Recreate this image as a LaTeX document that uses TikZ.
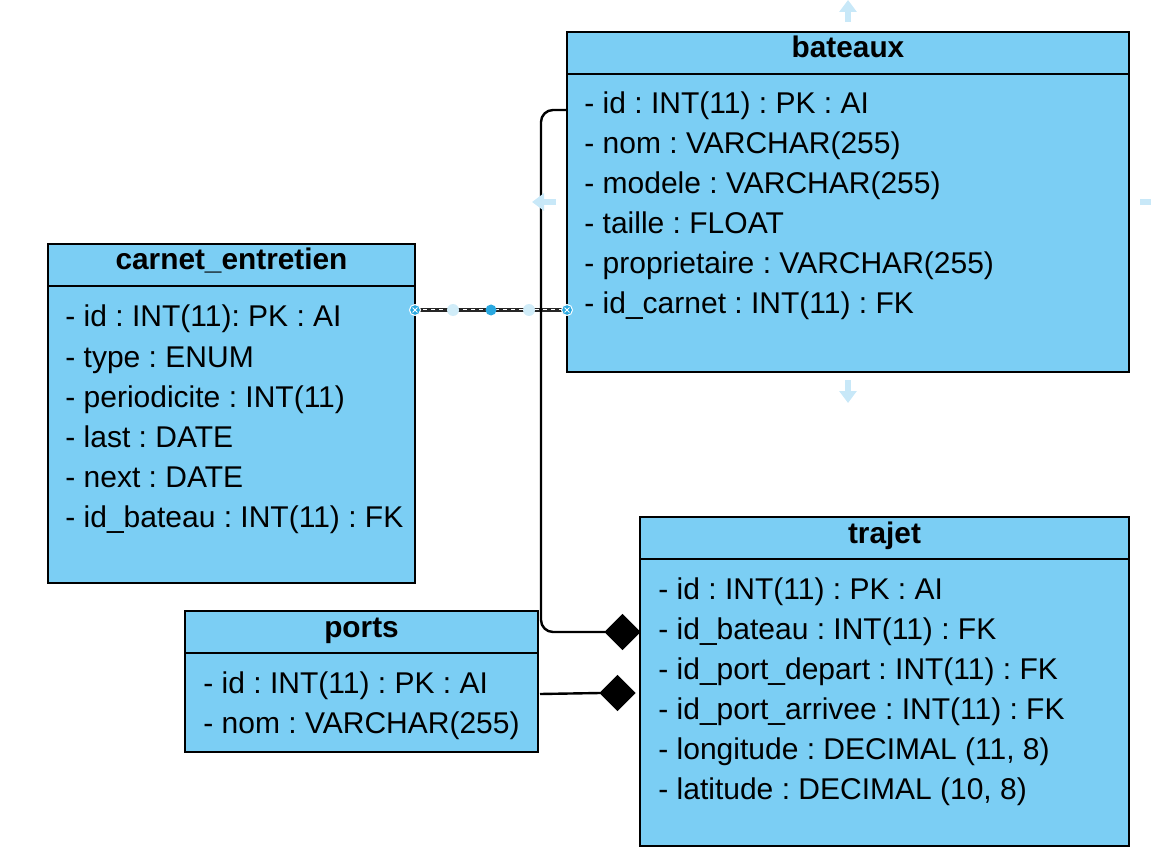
\documentclass[tikz,border=0pt]{standalone}
\usepackage{fontspec}
\setmainfont{Liberation Sans}
\usepackage{xcolor}
\usetikzlibrary{arrows.meta,calc,positioning,shapes.geometric}
\definecolor{erblue}{HTML}{7BCEF4}
\definecolor{selblue}{HTML}{29A8E0}
\definecolor{hintblue}{HTML}{C8E8F8}
\frenchspacing

\begin{document}
\begin{tikzpicture}[x=0.5pt,y=-0.5pt,
  head/.style={draw,line width=1.2pt,fill=erblue,outer sep=0pt,inner sep=0pt,
    minimum height=21pt,text height=10pt,text depth=5pt,anchor=north west,
    font=\bfseries\fontsize{14.9}{18}\selectfont},
  body/.style={draw,line width=1.2pt,fill=erblue,outer sep=0pt,inner sep=0pt},
  fld/.style={anchor=base west,inner sep=0pt,font=\fontsize{15}{18}\selectfont},
  rel/.style={line width=1.2pt,rounded corners=6pt},
  dia/.style={draw,fill=black,diamond,aspect=1,inner sep=0pt,outer sep=0pt,
    minimum width=17.5pt,minimum height=17.5pt,anchor=east},
  sel/.style={line width=1.6pt,draw=black!85},
  hnd/.style={circle,fill=selblue,draw=white,line width=.5pt,inner sep=0pt,
    minimum size=5.5pt,path picture={
      \draw[white,line width=.5pt]
        ($(path picture bounding box.center)+(-1.2pt,-1.2pt)$)--++(2.4pt,2.4pt)
        ($(path picture bounding box.center)+(-1.2pt,1.2pt)$)--++(2.4pt,-2.4pt);}},
  hint/.style={draw=hintblue,line width=3pt,-{Triangle[length=6pt,width=8.5pt]}}]
\useasboundingbox (0,0) rectangle (1151,861);
% tables
\node[head,minimum width=281pt] (bateaux) at (567,32) {bateaux};
\node[body,minimum width=281pt,minimum height=149pt,below=0pt of bateaux] (bateaux-f) {};
\node[fld] (bt1) at ($(bateaux-f.north west)+(17,40)$) {- id : INT(11) : PK : AI};
\node[fld] (bt2) at ([yshift=-20pt]bt1.base west) {- nom : VARCHAR(255)};
\node[fld] (bt3) at ([yshift=-20pt]bt2.base west) {- modele : VARCHAR(255)};
\node[fld] (bt4) at ([yshift=-20pt]bt3.base west) {- taille : FLOAT};
\node[fld] (bt5) at ([yshift=-20pt]bt4.base west) {- proprietaire : VARCHAR(255)};
\node[fld] (bt6) at ([yshift=-20pt]bt5.base west) {- id\_carnet : INT(11) : FK};

\node[head,minimum width=183.5pt] (carnet) at (48,244) {carnet\_entretien};
\node[body,minimum width=183.5pt,minimum height=148.5pt,below=0pt of carnet] (carnet-f) {};
\node[fld] (ce1) at ($(carnet-f.north west)+(17,41)$) {- id : INT(11): PK : AI};
\node[fld] (ce2) at ([yshift=-20pt]ce1.base west) {- type : ENUM};
\node[fld] (ce3) at ([yshift=-20pt]ce2.base west) {- periodicite : INT(11)};
\node[fld] (ce4) at ([yshift=-20pt]ce3.base west) {- last : DATE};
\node[fld] (ce5) at ([yshift=-20pt]ce4.base west) {- next : DATE};
\node[fld] (ce6) at ([yshift=-20pt]ce5.base west) {- id\_bateau : INT(11) : FK};

\node[head,minimum width=176.5pt] (ports) at (185,611) {ports};
\node[body,minimum width=176.5pt,minimum height=49.5pt,below=0pt of ports] (ports-f) {};
\node[fld] (pt1) at ($(ports-f.north west)+(18,40)$) {- id : INT(11) : PK : AI};
\node[fld] (pt2) at ([yshift=-20pt]pt1.base west) {- nom : VARCHAR(255)};

\node[head,minimum width=244.5pt] (trajet) at (640,517) {trajet};
\node[body,minimum width=244.5pt,minimum height=143.5pt,below=0pt of trajet] (trajet-f) {};
\node[fld] (tr1) at ($(trajet-f.north west)+(18,40)$) {- id : INT(11) : PK : AI};
\node[fld] (tr2) at ([yshift=-20pt]tr1.base west) {- id\_bateau : INT(11) : FK};
\node[fld] (tr3) at ([yshift=-20pt]tr2.base west) {- id\_port\_depart : INT(11) : FK};
\node[fld] (tr4) at ([yshift=-20pt]tr3.base west) {- id\_port\_arrivee : INT(11) : FK};
\node[fld] (tr5) at ([yshift=-20pt]tr4.base west) {- longitude : DECIMAL (11, 8)};
\node[fld] (tr6) at ([yshift=-20pt]tr5.base west) {- latitude : DECIMAL (10, 8)};

% selected link carnet -> bateaux
\coordinate (ce-out) at ($(carnet-f.north east)+(0,24)$);
\coordinate (bt-in) at (bateaux-f.west |- ce-out);
\draw[sel] (ce-out)--(bt-in);
\draw[white,line width=.5pt,dash pattern=on 2pt off 2pt] (ce-out)--(bt-in);
\node[circle,fill=selblue!22,inner sep=0pt,minimum size=6pt] (h-q1) at ($(ce-out)!.25!(bt-in)$) {};
\node[circle,fill=selblue!22,inner sep=0pt,minimum size=6pt] (h-q3) at ($(ce-out)!.75!(bt-in)$) {};
\node[circle,fill=selblue,inner sep=0pt,minimum size=5.5pt] (h-mid) at ($(ce-out)!.5!(bt-in)$) {};
\node[hnd] (h-ce) at (ce-out) {};
\node[hnd] (h-bt) at (bt-in) {};

% relations to trajet
\coordinate (bt-out) at ($(bateaux-f.north west)+(0,36)$);
\coordinate (pt-out) at ($(ports-f.north east)+(2,41)$);
\node[dia] (d-bateau) at ($(trajet-f.north west)+(0,73)$) {};
\node[dia] (d-port) at ($(trajet-f.north west)+(-5,134)$) {};
\draw[rel] (bt-out)--++(-26,0) |- (d-bateau.west);
\draw[rel] (pt-out)--(d-port.west);

% hover hints
\draw[hint] ($(bateaux.north)+(0,-10)$)--($(bateaux.north)+(0,-32)$);
\draw[hint] ($(bateaux-f.south)+(0,8)$)--($(bateaux-f.south)+(0,31)$);
\draw[hint] ($(bateaux-f.north west)+(-11,128)$)--($(bateaux-f.north west)+(-35,128)$);
\draw[hint] ($(bateaux-f.north east)+(11,128)$)--($(bateaux-f.north east)+(35,128)$);
\end{tikzpicture}
\end{document}
